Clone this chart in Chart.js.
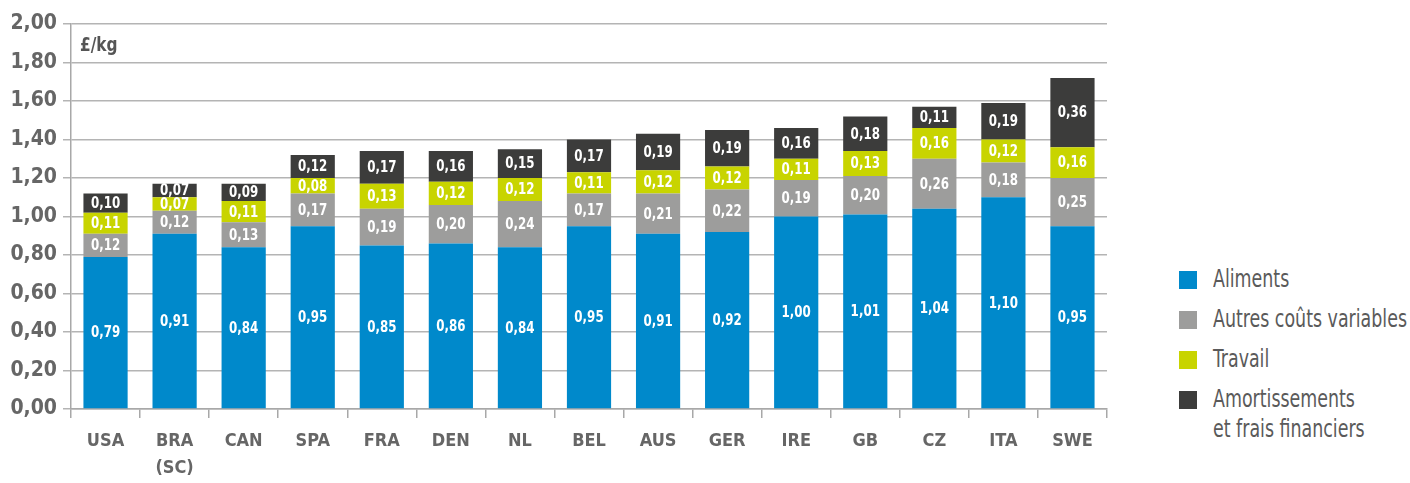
<!DOCTYPE html>
<html>
<head>
<meta charset="utf-8">
<script src="https://cdn.jsdelivr.net/npm/chart.js@4/dist/chart.umd.min.js"></script>
<style>
  html, body { margin: 0; padding: 0; background: #fff; }
  #wrap { position: relative; width: 1410px; height: 483px; overflow: hidden; }
  #c { position: absolute; left: 0; top: 0; }
  #legend { position: absolute; left: 1179px; top: 264px; font-family: 'DejaVu Sans Condensed', 'DejaVu Sans', sans-serif; font-size: 24px; color: #5a5a5a; }
  .item { position: relative; height: 40px; padding-left: 34px; line-height: 30px; white-space: nowrap; }
  .item .box { position: absolute; left: 0; top: 7px; width: 18px; height: 18px; }
  .item .txt { display: inline-block; transform-origin: 0 50%; }
</style>
</head>
<body>
<div id="wrap">
  <canvas id="c" width="1110" height="483"></canvas>
  <div id="legend"></div>
</div>
<script>
// Cost breakdown per country, £/kg
const countries = ['USA', ['BRA', '(SC)'], 'CAN', 'SPA', 'FRA', 'DEN', 'NL', 'BEL', 'AUS', 'GER', 'IRE', 'GB', 'CZ', 'ITA', 'SWE'];
const aliments = [0.79, 0.91, 0.84, 0.95, 0.85, 0.86, 0.84, 0.95, 0.91, 0.92, 1.00, 1.01, 1.04, 1.10, 0.95];
const autresCouts = [0.12, 0.12, 0.13, 0.17, 0.19, 0.20, 0.24, 0.17, 0.21, 0.22, 0.19, 0.20, 0.26, 0.18, 0.25];
const travail = [0.11, 0.07, 0.11, 0.08, 0.13, 0.12, 0.12, 0.11, 0.12, 0.12, 0.11, 0.13, 0.16, 0.12, 0.16];
const amortissements = [0.10, 0.07, 0.09, 0.12, 0.17, 0.16, 0.15, 0.17, 0.19, 0.19, 0.16, 0.18, 0.11, 0.19, 0.36];
const seriesNames = ['Aliments', 'Autres coûts variables', 'Travail', ['Amortissements', 'et frais financiers']];
const yTicks = [0, 0.2, 0.4, 0.6, 0.8, 1.0, 1.2, 1.4, 1.6, 1.8, 2.0];
const unitLabel = '£/kg';

const colors = ['#0089cb', '#9d9d9c', '#c8d400', '#3c3c3b'];
const FONT = "'DejaVu Sans Condensed', 'DejaVu Sans', sans-serif";
const fmt = v => v.toFixed(2).replace('.', ',');

const seriesData = [aliments, autresCouts, travail, amortissements];
const datasets = seriesData.map((d, i) => ({
  label: Array.isArray(seriesNames[i]) ? seriesNames[i].join(' ') : seriesNames[i],
  data: d,
  backgroundColor: colors[i],
  borderWidth: 0,
  barPercentage: 0.64,
  categoryPercentage: 1.0
}));

// Draws text squeezed horizontally to mimic a condensed face
function narrowText(ctx, text, x, y, sx) {
  ctx.save();
  ctx.translate(x, y);
  ctx.scale(sx, 1);
  ctx.fillText(text, 0, 0);
  ctx.restore();
}

// White value labels inside each segment, plus the unit label
const segmentLabels = {
  id: 'segmentLabels',
  afterDatasetsDraw(chart) {
    const ctx = chart.ctx;
    ctx.save();
    ctx.fillStyle = '#ffffff';
    ctx.font = 'bold 15px ' + FONT;
    ctx.textAlign = 'center';
    ctx.textBaseline = 'middle';
    chart.data.datasets.forEach((ds, di) => {
      const meta = chart.getDatasetMeta(di);
      meta.data.forEach((bar, i) => {
        const p = bar.getProps(['x', 'y', 'base'], true);
        narrowText(ctx, fmt(ds.data[i]), p.x, (p.y + p.base) / 2 + 1, 0.88);
      });
    });
    ctx.fillStyle = '#555555';
    ctx.font = 'bold 19px ' + FONT;
    ctx.textAlign = 'left';
    narrowText(ctx, unitLabel, chart.chartArea.left + 9, chart.chartArea.top + 22, 0.9);
    ctx.restore();
  }
};

new Chart(document.getElementById('c'), {
  type: 'bar',
  data: { labels: countries, datasets },
  options: {
    responsive: false,
    animation: false,
    layout: { padding: { left: 0, right: 3, top: 24, bottom: 0 } },
    plugins: { legend: { display: false }, tooltip: { enabled: false } },
    scales: {
      x: {
        stacked: true,
        offset: true,
        grid: { display: true, drawOnChartArea: false, offset: true, color: '#a8a8a8', lineWidth: 1.5, tickLength: 9 },
        border: { display: true, color: '#a8a8a8', width: 1.5 },
        ticks: { color: '#666666', font: { family: FONT, size: 18, weight: 'bold', lineHeight: 1.5 }, padding: 10, maxRotation: 0, autoSkip: false },
        afterFit(scale) { scale.height = 74; }
      },
      y: {
        stacked: true,
        min: 0,
        max: 2,
        afterBuildTicks(scale) { scale.ticks = yTicks.map(v => ({ value: v })); },
        grid: { color: '#b4b4b4', lineWidth: 1.5, tickLength: 8, drawTicks: true },
        border: { display: true, color: '#a8a8a8', width: 1.5 },
        ticks: { color: '#666666', font: { family: FONT, size: 21, weight: 'bold' }, padding: 6, callback: v => fmt(v) },
        afterFit(scale) { scale.width = 71; }
      }
    }
  },
  plugins: [segmentLabels]
});

// Legend built from the series names and colours
const legend = document.getElementById('legend');
const texts = [];
seriesNames.forEach((name, i) => {
  const item = document.createElement('div');
  item.className = 'item';
  const box = document.createElement('span');
  box.className = 'box';
  box.style.background = colors[i];
  item.appendChild(box);
  const txt = document.createElement('span');
  txt.className = 'txt';
  const lines = Array.isArray(name) ? name : [name];
  lines.forEach((ln, k) => {
    if (k) txt.appendChild(document.createElement('br'));
    txt.appendChild(document.createTextNode(ln));
  });
  item.appendChild(txt);
  legend.appendChild(item);
  texts.push(txt);
});
// Squeeze the legend text so the longest entry spans 194px
const widest = Math.max(...texts.map(t => t.getBoundingClientRect().width));
const sx = Math.min(1, 194 / widest);
texts.forEach(t => { t.style.transform = 'scaleX(' + sx + ')'; });
</script>
</body>
</html>
